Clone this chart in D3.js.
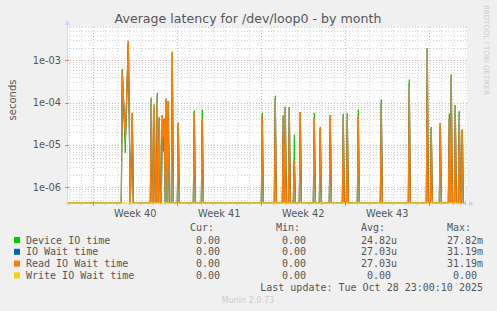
<!DOCTYPE html>
<html><head><meta charset="utf-8">
<script src="https://cdn.jsdelivr.net/npm/d3@7"></script>
<style>
html,body{margin:0;padding:0;background:#f0f0f0;}
svg{display:block;}
text{font-family:"DejaVu Sans",sans-serif;}
.mono{font-family:"DejaVu Sans Mono",monospace;white-space:pre;}
</style>
</head><body>
<svg id="chart" width="497" height="311"></svg>
<script>
// ---------- data ----------
const title = "Average latency for /dev/loop0 - by month";
const yLabel = "seconds";
const yTickValues = [1e-3, 1e-4, 1e-5, 1e-6];
const yTickLabels = ["1e-03", "1e-04", "1e-05", "1e-06"];
const weekStarts = ["2025-09-28", "2025-10-05", "2025-10-12", "2025-10-19"];
const weekLabels = ["Week 40", "Week 41", "Week 42", "Week 43"];
const timeDomain = ["2025-09-25T19:24", "2025-10-29T03:24"];

// sample times (UTC) and values (seconds); 0 = no latency
const sampleTimes = [
 "2025-09-25T20:00","2025-09-30T08:00","2025-09-30T10:00","2025-09-30T16:00","2025-09-30T22:00",
 "2025-10-01T02:00","2025-10-01T06:00","2025-10-01T08:00","2025-10-02T18:00","2025-10-02T20:00",
 "2025-10-02T22:00","2025-10-03T00:00","2025-10-03T02:00","2025-10-03T04:00","2025-10-03T06:00",
 "2025-10-03T08:00","2025-10-03T10:00","2025-10-03T12:00","2025-10-03T14:00","2025-10-03T16:00",
 "2025-10-03T18:00","2025-10-03T20:00","2025-10-03T22:00","2025-10-04T00:00","2025-10-04T02:00",
 "2025-10-04T04:00","2025-10-04T06:00","2025-10-04T08:00","2025-10-04T12:00","2025-10-04T14:00",
 "2025-10-04T16:00","2025-10-05T00:00","2025-10-05T02:00","2025-10-05T04:00",
 "2025-10-06T08:00","2025-10-06T10:00","2025-10-06T12:00","2025-10-07T00:00","2025-10-07T02:00",
 "2025-10-07T04:00","2025-10-12T00:00","2025-10-12T02:00","2025-10-12T04:00","2025-10-13T02:00",
 "2025-10-13T04:00","2025-10-13T06:00","2025-10-13T18:00","2025-10-13T20:00","2025-10-13T22:00",
 "2025-10-14T00:00","2025-10-14T02:00","2025-10-14T06:00","2025-10-14T08:00","2025-10-14T10:00",
 "2025-10-14T16:00","2025-10-14T18:00","2025-10-14T20:00","2025-10-15T04:00","2025-10-15T06:00",
 "2025-10-15T08:00","2025-10-16T08:00","2025-10-16T10:00","2025-10-16T12:00","2025-10-16T20:00",
 "2025-10-16T22:00","2025-10-17T00:00","2025-10-17T16:00","2025-10-17T18:00","2025-10-17T20:00",
 "2025-10-18T18:00","2025-10-18T20:00","2025-10-18T22:00","2025-10-19T02:00","2025-10-19T04:00",
 "2025-10-19T06:00","2025-10-20T00:00","2025-10-20T02:00","2025-10-20T04:00","2025-10-21T22:00",
 "2025-10-22T00:00","2025-10-22T02:00","2025-10-24T06:00","2025-10-24T08:00","2025-10-24T10:00",
 "2025-10-25T18:00","2025-10-25T20:00","2025-10-25T22:00","2025-10-26T02:00","2025-10-26T04:00",
 "2025-10-26T06:00","2025-10-26T20:00","2025-10-26T22:00","2025-10-27T00:00","2025-10-27T14:00",
 "2025-10-27T16:00","2025-10-27T18:00","2025-10-27T20:00","2025-10-27T22:00","2025-10-28T02:00",
 "2025-10-28T04:00","2025-10-28T06:00","2025-10-28T10:00","2025-10-28T12:00","2025-10-28T14:00",
 "2025-10-28T16:00","2025-10-28T18:00","2025-10-28T20:00","2025-10-28T22:00"
];
const deviceIO = [
 0,0,6.2e-4,6.5e-6,2.5e-3,
 0,5.5e-5,0,0,1.2e-4,
 0,0,8e-5,0,0,
 1.7e-4,0,4.4e-5,0,0,
 5e-5,7e-6,4e-5,0,1.2e-4,
 0,1.1e-4,0,0,1.5e-3,
 0,0,3e-5,0,
 0,6.5e-5,0,0,6.8e-5,
 0,0,5.7e-5,0,0,
 1.45e-4,0,0,4.9e-5,0,
 7.9e-5,0,0,7.9e-5,0,
 0,1.75e-5,0,0,6e-5,
 0,0,5.7e-5,0,0,
 2.6e-5,0,0,5.1e-5,0,
 0,5.4e-5,0,0,5.7e-5,
 0,0,6.8e-5,0,0,
 1.18e-4,0,0,3.5e-4,0,
 0,1.9e-3,0,0,2.6e-5,
 0,0,3.3e-5,0,0,
 5.5e-5,0,4.4e-4,0,0,
 8.5e-5,0,0,6.3e-5,0,
 0,2.3e-5,0,0
];
const ioWait = [
 0,0,5.5e-4,1.2e-5,2.9e-3,
 0,5.8e-5,0,0,1.3e-4,
 0,0,9e-5,0,0,
 1.45e-4,0,4.4e-5,0,0,
 5e-5,1.5e-5,4.2e-5,0,1.25e-4,
 0,1.1e-4,0,0,1.6e-3,
 0,0,3.4e-5,0,
 0,5.8e-5,0,0,4.2e-5,
 0,0,5e-5,0,0,
 1.26e-4,0,0,4.9e-5,0,
 7.9e-5,0,0,7.9e-5,0,
 0,4.1e-6,0,0,6e-5,
 0,0,4.4e-5,0,0,
 2.6e-5,0,0,5.1e-5,0,
 0,4.9e-5,0,0,4.9e-5,
 0,0,5.1e-5,0,0,
 9.8e-5,0,0,2.9e-4,0,
 0,1.96e-3,0,0,2.6e-5,
 0,0,3.3e-5,0,0,
 4.2e-5,0,4.6e-4,0,0,
 8.5e-5,0,0,5.8e-5,0,
 0,2.3e-5,0,0
];
const readIO = [
 0,0,5.5e-4,1.2e-5,2.9e-3,
 0,5.8e-5,0,0,1.3e-4,
 0,0,9e-5,0,0,
 1.45e-4,0,4.4e-5,0,0,
 5e-5,1.5e-5,4.2e-5,0,1.25e-4,
 0,1.1e-4,0,0,1.6e-3,
 0,0,3.4e-5,0,
 0,5.8e-5,0,0,4.2e-5,
 0,0,5e-5,0,0,
 1.26e-4,0,0,4.9e-5,0,
 7.9e-5,0,0,7.9e-5,0,
 0,4.1e-6,0,0,6e-5,
 0,0,4.4e-5,0,0,
 2.6e-5,0,0,5.1e-5,0,
 0,4.9e-5,0,0,4.9e-5,
 0,0,5.1e-5,0,0,
 9.8e-5,0,0,2.9e-4,0,
 0,1.96e-3,0,0,2.6e-5,
 0,0,3.3e-5,0,0,
 4.2e-5,0,4.6e-4,0,0,
 8.5e-5,0,0,5.8e-5,0,
 0,2.3e-5,0,0
];
const writeIO = [
 0,0,0,0,0, 0,0,0,0,0, 0,0,0,0,0, 0,0,0,0,0, 0,0,0,0,0, 0,0,0,0,0, 0,0,0,0,
 0,0,0,0,0, 0,0,0,0,0, 0,0,0,0,0, 0,0,0,0,0, 0,0,0,0,0, 0,0,0,0,0, 0,0,0,0,0,
 0,0,0,0,0, 0,0,0,0,0, 0,0,0,0,0, 0,0,0,0,0, 0,0,0,0,0, 0,0,0,0,0, 0,0,0,0
];
const seriesNames = ["Device IO time", "IO Wait time", "Read IO Wait time", "Write IO Wait time"];
const seriesColors = ["#00cc00", "#0066b3", "#ff8000", "#ffcc00"];
const legendCur = ["0.00", "0.00", "0.00", "0.00"];
const legendMin = ["0.00", "0.00", "0.00", "0.00"];
const legendAvg = ["24.82u", "27.03u", "27.03u", "0.00"];
const legendMax = ["27.82m", "31.19m", "31.19m", "0.00"];
const lastUpdate = "Last update: Tue Oct 28 23:00:10 2025";

// ---------- drawing ----------
const svg = d3.select("#chart");
const parse = d3.utcParse("%Y-%m-%dT%H:%M");
const parseDay = d3.utcParse("%Y-%m-%d");
const L = 67, R = 467, T = 27, B = 203;

const x = d3.scaleUtc().domain(timeDomain.map(parse)).range([L, R]);
const y = d3.scaleLog().domain([4.26e-7, 6.12e-3]).range([B, T]);

svg.append("rect").attr("x", L).attr("y", T).attr("width", R - L).attr("height", B - T).attr("fill", "#ffffff");

const grid = svg.append("g");
const minorY = [];
for (let e = -7; e <= -3; e++) for (let m = 2; m <= 9; m++) {
  const v = m * Math.pow(10, e);
  if (v > y.domain()[0] && v < y.domain()[1]) minorY.push(v);
}
grid.selectAll(".hmin").data(minorY).join("line")
  .attr("x1", L).attr("x2", R).attr("y1", d => Math.round(y(d)) + 0.5).attr("y2", d => Math.round(y(d)) + 0.5)
  .attr("stroke", "#d4d4d4").attr("stroke-dasharray", "1,2");
const days = d3.utcDay.range(x.domain()[0], x.domain()[1]);
grid.selectAll(".vmin").data(days).join("line")
  .attr("x1", d => Math.round(x(d)) + 0.5).attr("x2", d => Math.round(x(d)) + 0.5).attr("y1", T).attr("y2", B)
  .attr("stroke", "#d4d4d4").attr("stroke-dasharray", "1,2");
const weeks = d3.utcSunday.range(x.domain()[0], x.domain()[1]);
grid.selectAll(".vmaj").data(weeks).join("line")
  .attr("x1", d => Math.round(x(d)) + 0.5).attr("x2", d => Math.round(x(d)) + 0.5).attr("y1", T).attr("y2", B)
  .attr("stroke", "#e6a6a6").attr("stroke-dasharray", "1,2");
grid.selectAll(".hmaj").data(yTickValues).join("line")
  .attr("x1", L).attr("x2", R).attr("y1", d => Math.round(y(d)) + 0.5).attr("y2", d => Math.round(y(d)) + 0.5)
  .attr("stroke", "#e6a6a6").attr("stroke-dasharray", "1,2");

// data lines
svg.append("clipPath").attr("id", "clip").append("rect")
  .attr("x", L).attr("y", T).attr("width", R - L).attr("height", B - T + 1);
const times = sampleTimes.map(parse);
const allSeries = [deviceIO, ioWait, readIO, writeIO];
const widths = [1, 1.2, 1.2, 1];
const line = d3.line()
  .x((d, i) => x(times[i]))
  .y(d => d > 0 ? y(d) : y(y.domain()[0]));
const dg = svg.append("g").attr("clip-path", "url(#clip)");
allSeries.forEach((s, k) => {
  dg.append("path").datum(s).attr("d", line)
    .attr("fill", "none").attr("stroke", seriesColors[k]).attr("stroke-width", widths[k]);
});

// axes
const axisColor = "#cfd6f8";
svg.append("line").attr("x1", L - 3).attr("x2", R + 3).attr("y1", B + 0.5).attr("y2", B + 0.5)
  .attr("stroke", axisColor).attr("stroke-opacity", 0.5);
svg.append("line").attr("x1", L + 0.5).attr("x2", L + 0.5).attr("y1", B + 3).attr("y2", T - 3)
  .attr("stroke", axisColor);
svg.append("path").attr("d", `M${R + 2},${B - 2.5}L${R + 7},${B + 0.5}L${R + 2},${B + 3.5}Z`).attr("fill", axisColor);
svg.append("path").attr("d", `M${L - 2.5},${T - 2}L${L + 0.5},${T - 7}L${L + 3.5},${T - 2}Z`).attr("fill", axisColor);
svg.selectAll(".xt").data(days).join("line")
  .attr("x1", d => Math.round(x(d)) + 0.5).attr("x2", d => Math.round(x(d)) + 0.5).attr("y1", B - 1).attr("y2", B + 2)
  .attr("stroke", "#bbbbbb");
svg.selectAll(".xT").data(weeks).join("line")
  .attr("x1", d => Math.round(x(d)) + 0.5).attr("x2", d => Math.round(x(d)) + 0.5).attr("y1", B - 2).attr("y2", B + 3)
  .attr("stroke", "#e08080");
svg.selectAll(".yt").data(yTickValues).join("line")
  .attr("x1", L - 2).attr("x2", L + 2).attr("y1", d => Math.round(y(d)) + 0.5).attr("y2", d => Math.round(y(d)) + 0.5)
  .attr("stroke", "#e08080");

const txt = "#555555";
svg.append("text").attr("x", 248).attr("y", 23).attr("text-anchor", "middle")
  .attr("font-size", 12.6).attr("fill", txt).text(title);
svg.selectAll(".yl").data(yTickValues).join("text")
  .attr("x", 61).attr("y", d => y(d) + 3.5).attr("text-anchor", "end")
  .attr("font-size", 9.8).attr("fill", txt).text((d, i) => yTickLabels[i]);
svg.append("text").attr("transform", "translate(15.5,100) rotate(-90)").attr("text-anchor", "middle")
  .attr("font-size", 10).attr("fill", txt).text(yLabel);
svg.selectAll(".wl").data(weekStarts).join("text")
  .attr("x", d => x(d3.utcHour.offset(parseDay(d), 84))).attr("y", 216.5).attr("text-anchor", "middle")
  .attr("font-size", 9.8).attr("fill", txt).text((d, i) => weekLabels[i]);
svg.append("text").attr("transform", "translate(484,5) rotate(90)").attr("text-anchor", "start")
  .attr("font-size", 7).attr("fill", "#cccccc").text("RRDTOOL / TOBI OETIKER");

// legend
const lg = svg.append("g").attr("class", "mono").attr("font-size", 10).attr("fill", txt);
const colX = [190, 276, 361, 447];
["Cur:", "Min:", "Avg:", "Max:"].forEach((h, i) => {
  lg.append("text").attr("class", "mono").attr("x", colX[i]).attr("y", 231).text(h);
});
const fmt = s => /[a-z]$/.test(s) ? s.padStart(6) : (s.padStart(5) + " ");
seriesNames.forEach((n, k) => {
  const yy = 243.5 + k * 11.8;
  svg.append("rect").attr("x", 14).attr("y", yy - 6.5).attr("width", 6).attr("height", 6).attr("fill", seriesColors[k]);
  lg.append("text").attr("class", "mono").attr("x", 26).attr("y", yy).text(n);
  [legendCur[k], legendMin[k], legendAvg[k], legendMax[k]].forEach((v, i) => {
    lg.append("text").attr("class", "mono").attr("x", colX[i]).attr("y", yy).text(fmt(v));
  });
});
lg.append("text").attr("class", "mono").attr("x", 483).attr("y", 291).attr("text-anchor", "end").text(lastUpdate);
svg.append("text").attr("x", 248).attr("y", 303).attr("text-anchor", "middle")
  .attr("font-size", 8).attr("fill", "#cccccc").text("Munin 2.0.73");
</script>
</body></html>
